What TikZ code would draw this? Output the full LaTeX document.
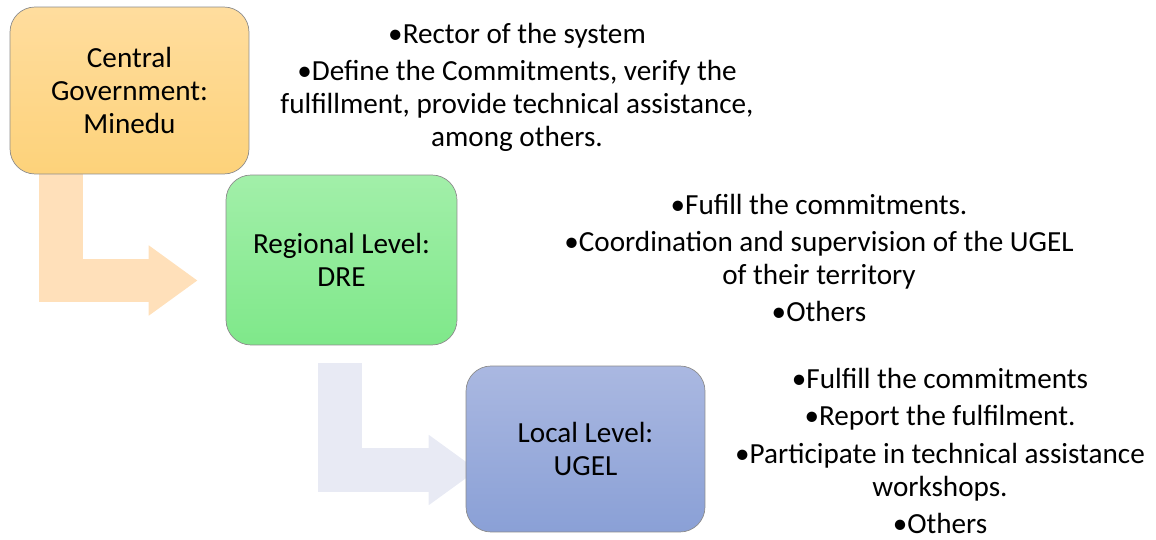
\documentclass[tikz,border=0pt]{standalone}
\usepackage{fontspec}
\setmainfont{Carlito}
\usetikzlibrary{arrows.meta,calc,positioning,backgrounds}

\definecolor{govtop}{HTML}{FFDD9E}
\definecolor{govbot}{HTML}{FDD27A}
\definecolor{dretop}{HTML}{A2EFA9}
\definecolor{drebot}{HTML}{7FE88A}
\definecolor{ugeltop}{HTML}{AAB8E1}
\definecolor{ugelbot}{HTML}{8AA0D6}
\definecolor{peach}{HTML}{FFE0BA}
\definecolor{lilac}{HTML}{E8EAF4}

\begin{document}
\begin{tikzpicture}[x=0.02cm,y=-0.02cm,
    level/.style={draw=black!45,rounded corners=0.5cm,shading=axis,align=center,
        minimum width=4.78cm,minimum height=3.34cm,font=\fontsize{16.6}{18.8}\selectfont},
    duty/.style={align=center,inner sep=1pt,font=\fontsize{16.6}{18.8}\selectfont},
    bent/.style={line width=0.88cm,-{Triangle[length=0.98cm,width=1.34cm]}}]
\useasboundingbox (0,0) rectangle (1156,540);

\node[level,top color=govtop,bottom color=govbot] (gov) at (129.5,90.5) {Central\\Government:\\Minedu};
\node[level,top color=dretop,bottom color=drebot,minimum width=4.62cm,minimum height=3.4cm] (dre) at (341.5,260) {Regional Level:\\DRE};
\node[level,top color=ugeltop,bottom color=ugelbot,minimum height=3.32cm] (ugel) at (585.5,449) {Local Level:\\UGEL};

\node[duty] (govduty) at (517,87) {•Rector of the system\\[0.08cm]
    •Define the Commitments, verify the\\fulfillment, provide technical assistance,\\among others.};
\node[duty] (dreduty) at (819,258) {•Fufill the commitments.\\[0.08cm]
    •Coordination and supervision of the UGEL\\of their territory\\[0.08cm]
    •Others};
\node[duty] (ugelduty) at (940,451) {•Fulfill the commitments\\[0.08cm]
    •Report the fulfilment.\\[0.08cm]
    •Participate in technical assistance\\workshops.\\[0.08cm]
    •Others};

\begin{scope}[on background layer]
\draw[bent,peach] ($(gov.south west)+(51,0)$) |- ($(dre.west)+(-28,20.5)$);
\draw[bent,lilac] ($(dre.south west)+(114,18)$) |- ($(ugel.west)+(12,21)$);
\end{scope}
\end{tikzpicture}
\end{document}
